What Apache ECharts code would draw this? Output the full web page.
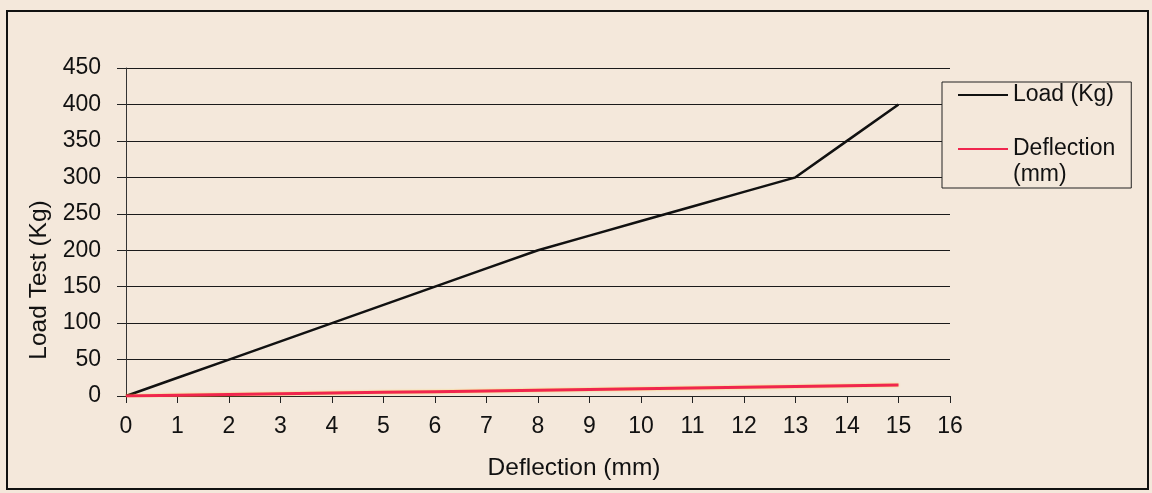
<!DOCTYPE html>
<html><head><meta charset="utf-8">
<script src="https://cdn.jsdelivr.net/npm/echarts@6/dist/echarts.min.js"></script>
<style>html,body{margin:0;padding:0;background:#f4e8db;}#c{width:1152px;height:493px;}</style>
</head><body><div id="c"></div>
<script>
const xValues = [0,1,2,3,4,5,6,7,8,9,10,11,12,13,14,15];
const loadKg = [0,25,50,75,100,125,150,175,200,220,240,260,280,300,350,400];
const deflectionMm = [0,1,2,3,4,5,6,7,8,9,10,11,12,13,14,15];
const seriesNames = ['Load (Kg)','Deflection (mm)'];

const chart = echarts.init(document.getElementById('c'));
const font = 'Liberation Sans, Arial, sans-serif';
chart.setOption({
  backgroundColor: '#f4e8db',
  animation: false,
  graphic: [{type:'rect', shape:{x:7,y:11,width:1141,height:478}, style:{fill:'none', stroke:'#111', lineWidth:2}, silent:true}],
  grid: {left:126, right:202, top:68, bottom:97, containLabel:false},
  legend: {
    orient:'vertical', left:942, top:82,
    backgroundColor:'#f4e8db', borderColor:'#222', borderWidth:1, borderRadius:0,
    padding:[0,16,0,16], itemGap:2, itemWidth:50, itemHeight:2,
    icon:'rect',
    textStyle:{fontFamily:font, fontSize:23, color:'#111', lineHeight:26},
    formatter: n => n === 'Deflection (mm)' ? '\nDeflection\n(mm)' : n,
    data: seriesNames
  },
  xAxis: {
    type:'value', min:0, max:16, interval:1,
    name:'Deflection (mm)', nameLocation:'middle', nameGap:60,
    nameTextStyle:{fontFamily:font, fontSize:24.5, color:'#111', padding:[0,0,0,72]},
    axisLine:{show:true, lineStyle:{color:'#222', width:1}},
    axisTick:{show:true, length:7, lineStyle:{color:'#222'}},
    axisLabel:{fontFamily:font, fontSize:23, color:'#111', margin:19},
    splitLine:{show:false}
  },
  yAxis: {
    type:'value', min:0, max:450, interval:50,
    name:'Load Test (Kg)', nameLocation:'middle', nameGap:74, nameRotate:90,
    nameTextStyle:{fontFamily:font, fontSize:24.5, color:'#111', padding:[0,96,0,0]},
    axisLine:{show:true, lineStyle:{color:'#333', width:1}},
    axisTick:{show:true, length:9, lineStyle:{color:'#222'}},
    axisLabel:{fontFamily:font, fontSize:23, color:'#111', margin:25},
    splitLine:{show:true, lineStyle:{color:'#1a1a1a', width:1}}
  },
  series: [
    {name:seriesNames[0], type:'line', symbol:'none', data:xValues.map((x,i)=>[x,loadKg[i]]),
     lineStyle:{color:'#111', width:2.5}, itemStyle:{color:'#111'}},
    {name:seriesNames[1], type:'line', symbol:'none', data:xValues.map((x,i)=>[x,deflectionMm[i]]),
     lineStyle:{color:'#f0264e', width:3, shadowColor:'rgba(255,200,0,0.6)', shadowBlur:2}, itemStyle:{color:'#f0264e'}}
  ]
});
</script></body></html>
